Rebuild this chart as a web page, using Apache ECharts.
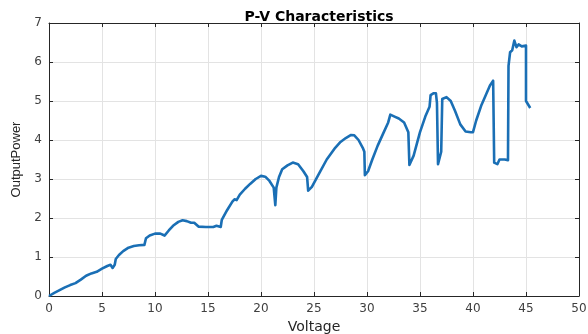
<!DOCTYPE html>
<html>
<head>
<meta charset="utf-8">
<script src="https://cdn.jsdelivr.net/npm/echarts@6/dist/echarts.min.js"></script>
<style>html,body{margin:0;padding:0;background:#fff}#c{width:588px;height:334px}</style>
</head>
<body>
<div id="c"></div>
<script>
const titleText = 'P-V Characteristics';
const xLabel = 'Voltage';
const yLabel = 'OutputPower';
const xTicks = [0,5,10,15,20,25,30,35,40,45,50];
const yTicks = [0,1,2,3,4,5,6,7];
const voltage = [0,0.5,1,1.5,2,2.5,3,3.5,4,4.5,5,5.5,5.8,6.0,6.1,6.2,6.3,6.6,7,7.5,8,8.5,9,9.1,9.15,9.5,10,10.5,10.9,11.3,11.7,12.2,12.6,13,13.4,13.7,14.1,14.8,15.5,15.8,16.2,16.3,16.8,17.3,17.5,17.7,18,18.5,19,19.5,20,20.4,20.8,21.2,21.35,21.35,21.45,21.7,22,22.5,23,23.5,24,24.35,24.45,24.8,25.5,26.2,27,27.5,28,28.5,28.8,29.2,29.6,29.75,29.8,30.1,30.5,31,31.5,32,32.2,32.6,33,33.5,33.9,34.0,34.4,35,35.5,35.9,36.0,36.3,36.5,36.6,36.7,37.0,37.1,37.5,37.9,38.3,38.8,39.3,39.8,40.0,40.3,40.8,41.2,41.6,41.9,42.0,42.0,42.3,42.5,43.0,43.3,43.35,43.5,43.7,43.9,44.1,44.3,44.6,45.0,45.0,45.4];
const power = [0,0.08,0.15,0.22,0.28,0.33,0.42,0.52,0.58,0.62,0.7,0.77,0.8,0.72,0.7,0.8,0.95,1.05,1.15,1.24,1.28,1.3,1.31,1.3,1.48,1.55,1.6,1.6,1.55,1.68,1.8,1.9,1.94,1.92,1.88,1.88,1.78,1.77,1.77,1.8,1.77,1.95,2.2,2.42,2.48,2.46,2.6,2.75,2.88,3.0,3.08,3.06,2.95,2.78,2.75,2.33,2.78,3.05,3.25,3.35,3.42,3.38,3.2,3.05,2.7,2.8,3.15,3.5,3.8,3.95,4.05,4.13,4.12,4.0,3.8,3.7,3.1,3.2,3.5,3.85,4.15,4.45,4.65,4.6,4.55,4.45,4.2,3.36,3.6,4.2,4.6,4.85,5.15,5.2,5.2,4.95,3.38,3.7,5.05,5.1,5.0,4.75,4.4,4.22,4.2,4.2,4.5,4.9,5.15,5.4,5.52,5.5,3.42,3.38,3.5,3.5,3.48,5.9,6.25,6.3,6.55,6.38,6.45,6.4,6.42,5.0,4.82];

const axisColor = '#262626';
const labelColor = '#404040';
const xMin = xTicks[0], xMax = xTicks[xTicks.length-1];
const yMin = yTicks[0], yMax = yTicks[yTicks.length-1];
const wideFont = '"DejaVu Sans", sans-serif';
const narrowFont = '"Liberation Sans", Arial, sans-serif';

function baseAxis(min, max, interval, showLabel, pos, margin) {
  return {
    type: 'value', min: min, max: max, interval: interval, position: pos,
    axisLine: {show: true, onZero: false, lineStyle: {color: axisColor, width: 1}},
    axisTick: {show: true, inside: true, length: 4, lineStyle: {color: axisColor}},
    axisLabel: {show: showLabel, color: labelColor, fontSize: 12, fontFamily: wideFont, margin: margin},
    splitLine: {show: showLabel, lineStyle: {color: '#e3e3e3', width: 1}}
  };
}

const chart = echarts.init(document.getElementById('c'));
const xa0 = baseAxis(xMin, xMax, xTicks[1]-xTicks[0], true, 'bottom', 7);
xa0.name = xLabel; xa0.nameLocation = 'middle'; xa0.nameGap = 21;
xa0.nameTextStyle = {color: axisColor, fontSize: 14, fontFamily: wideFont};
const ya0 = baseAxis(yMin, yMax, yTicks[1]-yTicks[0], true, 'left', 7);
ya0.name = yLabel; ya0.nameLocation = 'middle'; ya0.nameGap = 26;
ya0.nameTextStyle = {color: axisColor, fontSize: 13, fontFamily: narrowFont};

chart.setOption({
  animation: false,
  backgroundColor: '#fff',
  title: {text: titleText, left: 314, top: 5, textAlign: 'center',
    textStyle: {fontSize: 14, fontWeight: 'bold', color: '#000', fontFamily: wideFont}},
  grid: {left: 49, right: 9, top: 23, bottom: 38, containLabel: false, outerBoundsMode: 'none'},
  xAxis: [xa0, baseAxis(xMin, xMax, xTicks[1]-xTicks[0], false, 'top', 7)],
  yAxis: [ya0, baseAxis(yMin, yMax, yTicks[1]-yTicks[0], false, 'right', 7)],
  series: [{
    type: 'line', xAxisIndex: 0, yAxisIndex: 0,
    data: voltage.map((v, i) => [v, power[i]]),
    showSymbol: false, symbol: 'none',
    lineStyle: {color: '#1a6fb5', width: 2.6, join: 'round'}
  }]
});
</script>
</body>
</html>
